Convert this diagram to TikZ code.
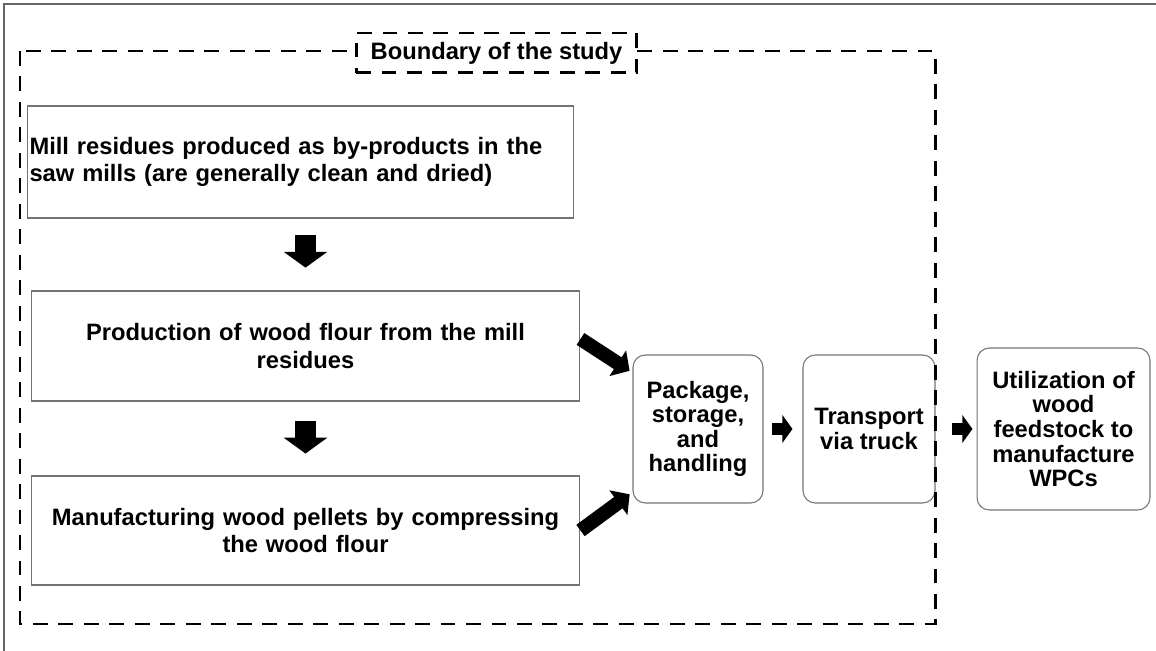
\documentclass[tikz,border=0pt]{standalone}
\usepackage{fontspec}
\setmainfont{Liberation Sans}
\usetikzlibrary{arrows.meta}

\begin{document}
\begin{tikzpicture}[x=0.02cm, y=-0.02cm,
        stepbox/.style={draw=black!55, line width=0.6pt, inner sep=1pt,
            font=\bfseries\fontsize{13.5}{15.5}\selectfont},
        roundbox/.style={stepbox, rounded corners=7pt, align=center,
            font=\bfseries\fontsize{13.5}{14}\selectfont},
        bigarrow/.style={line width=11.9pt, -{Triangle[width=24.4pt, length=9pt]}},
        slantarrow/.style={line width=8pt, -{Triangle[width=17pt, length=8pt]}},
        smallarrow/.style={line width=6.5pt, -{Triangle[width=15.5pt, length=5.7pt]}},
        boundary/.style={line width=1.7pt, dash pattern=on 8.5pt off 6pt}]
    \useasboundingbox (0,0) rectangle (1156,651);

    % outer frame
    \draw[black!60, line width=0.6pt] (4,651) |- (1156,4);

    % left column
    \node[stepbox, minimum width=10.9cm, minimum height=2.24cm, text width=10.84cm, align=left]
        (mill) at (300.5,162) {Mill residues produced as by-products in the\\saw mills (are generally clean and dried)};
    \node[stepbox, minimum width=10.98cm, minimum height=2.2cm, text width=10.7cm, align=center]
        (flour) at (305.5,346) {Production of wood flour from the mill\\residues};
    \node[stepbox, minimum width=10.98cm, minimum height=2.18cm, text width=10.7cm, align=center]
        (pellet) at (305.5,530.5) {Manufacturing wood pellets by compressing\\the wood flour};

    % right row
    \node[roundbox, minimum width=2.6cm, minimum height=2.96cm] (pack) at (698,429)
        {Package,\\storage,\\and\\handling};
    \node[roundbox, minimum width=2.64cm, minimum height=2.96cm] (truck) at (869,429)
        {Transport\\via truck};
    \node[roundbox, minimum width=3.46cm, minimum height=3.24cm] (use) at (1063.5,429)
        {Utilization of\\wood\\feedstock to\\manufacture\\WPCs};

    % block arrows
    \draw[bigarrow, shorten <=9.6pt, shorten >=13pt] (flour.north |- mill.south) -- (flour.north);
    \draw[bigarrow, shorten <=11.3pt, shorten >=12.5pt] (flour.south) -- (pellet.north);
    \draw[slantarrow, shorten >=2pt] ([yshift=4pt]flour.east) -- ([yshift=32pt]pack.west);
    \draw[slantarrow, shorten >=2pt] (pellet.east) -- ([yshift=-36pt]pack.west);
    \draw[smallarrow, shorten <=5pt, shorten >=5.7pt] (pack.east) -- (truck.west);
    \draw[smallarrow, shorten <=9.6pt, shorten >=2.3pt] (truck.east) -- (use.west);

    % boundary of the study
    \draw[boundary] (20,51) rectangle (935,624);
    \node[stepbox, boundary, draw=black, fill=white, minimum width=5.62cm, minimum height=0.8cm]
        (study) at (496.5,53) {Boundary of the study};
\end{tikzpicture}
\end{document}
